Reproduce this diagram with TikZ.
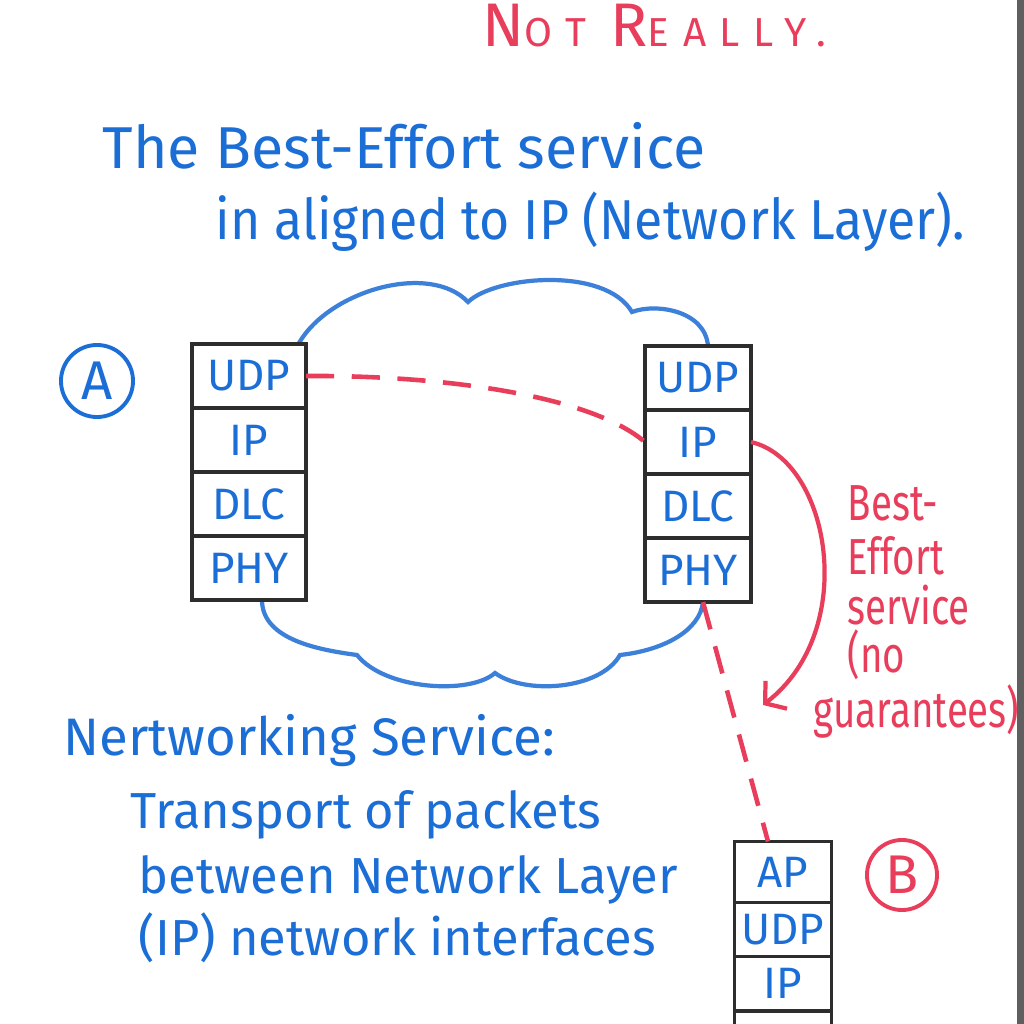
\documentclass[tikz,border=0pt]{standalone}
\usepackage{fontspec}
\setmainfont{Fira Sans}
\newfontfamily\handfont{Fira Sans}
\newfontfamily\slimhand[FakeStretch=0.92]{Fira Sans}
\newfontfamily\narrowhand[FakeStretch=0.76]{Fira Sans}
\newfontfamily\widehand[LetterSpace=34]{Fira Sans}
\usetikzlibrary{positioning,arrows.meta,calc}

\definecolor{penblue}{RGB}{27,110,214}
\definecolor{cloudblue}{RGB}{60,128,218}
\definecolor{penred}{RGB}{232,62,92}
\definecolor{boxgray}{RGB}{45,45,45}
\definecolor{bargray}{RGB}{95,95,95}

\newcommand\capletter[1]{{\fontsize{17.5}{19}\selectfont #1}}

\tikzset{
  layer/.style={draw=boxgray, line width=1.1pt, fill=white, inner sep=0pt, outer sep=0pt,
    minimum height=0.64cm, text=penblue, font=\handfont\fontsize{12.5}{14}\selectfont},
  hostA/.style={layer, minimum width=1.14cm},
  hostR/.style={layer, minimum width=1.06cm},
  hostB/.style={layer, minimum width=0.97cm, minimum height=0.54cm},
  tag/.style={circle, draw, line width=1.1pt, minimum size=0.72cm, inner sep=0pt,
    font=\handfont\fontsize{15.5}{16}\selectfont},
  bluetext/.style={text=penblue, anchor=base west, inner sep=0pt,
    font=\handfont\fontsize{16.8}{19}\selectfont},
  notetext/.style={bluetext, font=\handfont\fontsize{14.4}{18}\selectfont},
  redtext/.style={text=penred, anchor=base west, inner sep=0pt,
    font=\narrowhand\fontsize{14.4}{17}\selectfont},
  reddash/.style={draw=penred, line width=1.3pt, dash pattern=on 8pt off 5pt},
}

\begin{document}
\begin{tikzpicture}[x=0.01cm, y=-0.01cm]
\useasboundingbox (0,0) rectangle (1024,1024);
\fill[white] (0,0) rectangle (1024,1024);
\fill[bargray] (1017,0) rectangle (1024,1024);

% Heading
\node[text=penred, anchor=base west, inner sep=0pt,
  font=\widehand\fontsize{11.5}{13}\selectfont] (notreally) at (482,47)
  {\capletter{N}OT \capletter{R}EALLY.};

% Title
\node[bluetext] (title1) at (102,168) {The Best-Effort service};
\node[bluetext, font=\slimhand\fontsize{16}{19}\selectfont] (title2) at (215,239)
  {in aligned to IP (Network Layer).};

% Cloud
\draw[cloudblue, line width=1.2pt]
  (299,343) .. controls (330,290) and (430,262) .. (468,302)
  .. controls (495,276) and (605,266) .. (632,312)
  .. controls (655,303) and (705,310) .. (708,346);
\draw[cloudblue, line width=1.2pt]
  (262,600) .. controls (262,640) and (320,650) .. (357,655)
  .. controls (385,690) and (470,695) .. (495,673)
  .. controls (525,695) and (600,690) .. (620,655)
  .. controls (665,650) and (700,630) .. (703,602);

% Host A
\node[tag, draw=penblue, text=penblue] (tagA) at (97,381) {A};
\node[hostA] (aUDP) at (249,376) {UDP};
\node[hostA, below=0pt of aUDP] (aIP) {IP};
\node[hostA, below=0pt of aIP] (aDLC) {DLC};
\node[hostA, below=0pt of aDLC] (aPHY) {PHY};

% Router
\node[hostR] (rUDP) at (698,378) {UDP};
\node[hostR, below=0pt of rUDP] (rIP) {IP};
\node[hostR, below=0pt of rIP] (rDLC) {DLC};
\node[hostR, below=0pt of rDLC] (rPHY) {PHY};

% Host B
\node[tag, draw=penred, text=penred, minimum size=0.7cm] (tagB) at (902,875) {B};
\node[hostB, minimum height=0.61cm] (bAP) at (783,872) {AP};
\node[hostB, below=0pt of bAP] (bUDP) {UDP};
\node[hostB, below=0pt of bUDP] (bIP) {IP};
\node[hostB, below=0pt of bIP] (bDLC) {};

% Connections
\draw[reddash] (aUDP.east) .. controls (440,375) and (590,395) .. (rIP.west);
\draw[reddash] ([xshift=0.05cm]rPHY.south) -- ([xshift=-0.15cm]bAP.north);
\coordinate (betip) at (763,705);
\draw[penred, line width=1.2pt, -{Straight Barb[length=4pt,width=10pt]}]
  (rIP.east) .. controls (830,460) and (860,630) .. (betip);

% Best-effort label
\node[redtext] (be1) at (847,520) {Best-};
\node[redtext] (be2) at (847,574) {Effort};
\node[redtext] (be3) at (847,624) {service};
\node[redtext] (be4) at (847,672) {(no};
\node[redtext] (be5) at (813,727) {guarantees)};

% Networking service
\node[bluetext, font=\handfont\fontsize{15}{18}\selectfont] (ns1) at (63,755) {Nertworking Service:};
\node[notetext] (ns2) at (130,828) {Transport of packets};
\node[notetext] (ns3) at (138,893) {between Network Layer};
\node[notetext] (ns4) at (138,955) {(IP) network interfaces};
\end{tikzpicture}
\end{document}
